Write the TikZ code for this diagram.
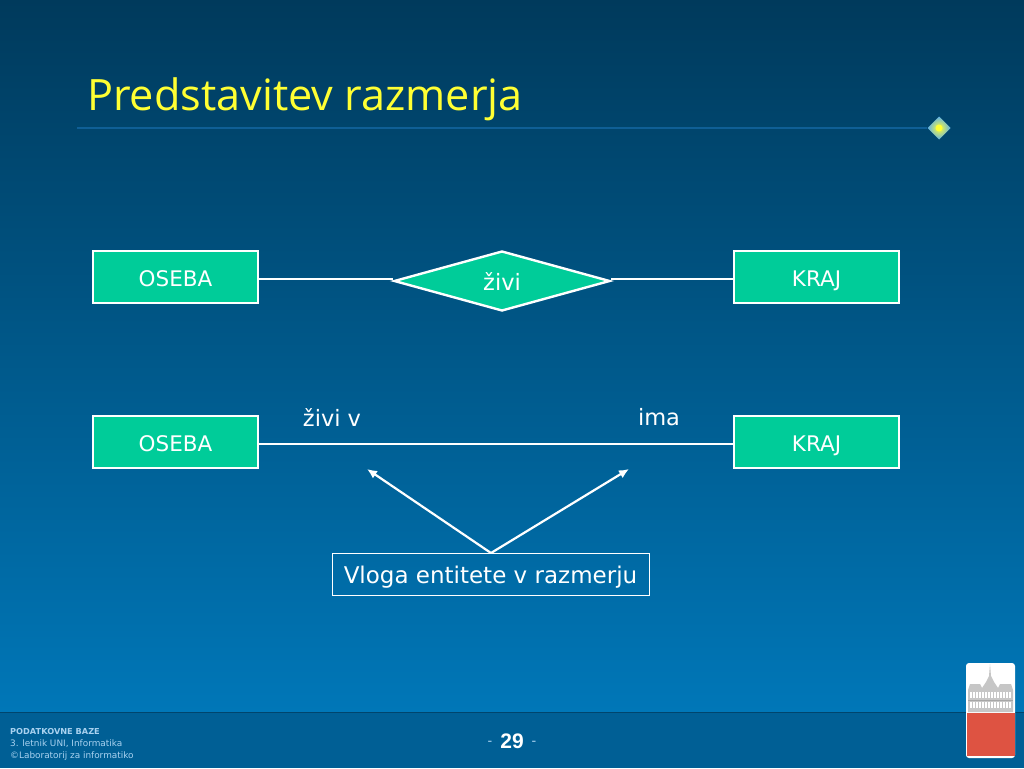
\documentclass[tikz,border=0pt]{standalone}
\usepackage{fontspec}
\setmainfont{DejaVu Sans}
\newfontfamily\titlefont{Open Sans}
\newfontfamily\numfont{Liberation Sans}
\usetikzlibrary{shapes.geometric,arrows.meta}
\definecolor{bgtop}{HTML}{003A5C}
\definecolor{bgbot}{HTML}{0077B8}
\definecolor{footbar}{HTML}{005F95}
\definecolor{boxgreen}{HTML}{00CC99}
\definecolor{titleyellow}{HTML}{FFFF33}
\definecolor{rulecol}{HTML}{0F5F96}
\definecolor{footcol}{HTML}{A9D2F0}
\definecolor{logored}{HTML}{DE5342}
\definecolor{ornblue}{HTML}{5FB0E8}
\tikzset{
  entbox/.style={draw=white,line width=2.4pt,fill=boxgreen,text=white,minimum width=165pt,minimum height=52pt,inner sep=0pt,text height=18pt,text depth=0pt,font=\fontsize{21.5}{26}\selectfont},
  relbox/.style={diamond,draw=white,line width=2.4pt,fill=boxgreen,text=white,minimum width=216pt,minimum height=60pt,inner sep=0pt,shape aspect=3.6,font=\fontsize{22.5}{26}\selectfont},
  rolelabel/.style={text=white,inner sep=0pt,font=\fontsize{22.5}{26}\selectfont},
  link/.style={white,line width=2.2pt},
  footline/.style={text=footcol,inner sep=0pt,anchor=west,font=\fontsize{8.9}{10}\selectfont},
}
\begin{document}
\begin{tikzpicture}[x=1pt,y=-1pt]
\useasboundingbox (0,0) rectangle (1024,768);
\shade[top color=bgtop,bottom color=bgbot] (0,0) rectangle (1024,712);
\fill[footbar] (0,712) rectangle (1024,768);
\draw[bgtop!70!footbar,line width=1pt] (0,712.5)--(1024,712.5);

% title
\node[text=titleyellow,anchor=west,inner sep=0pt,font=\titlefont\fontsize{43.2}{50}\selectfont] (title) at (87,99) {Predstavitev razmerja};
\coordinate (rulestart) at (77,128);
\node[diamond,inner sep=0pt,minimum width=23pt,minimum height=23pt] (orn) at (939,128) {};
\draw[rulecol,line width=1.5pt] (rulestart)--(orn);
\shade[inner color=titleyellow,outer color=ornblue] (939,116.5)--(950.5,128)--(939,139.5)--(927.5,128)--cycle;
\fill[titleyellow] (939,128) circle (3.5);

% first row
\node[entbox] (osebaA) at (175.5,277) {OSEBA};
\node[entbox] (krajA) at (816.5,277) {KRAJ};
\node[relbox] (zivi) at (502,281) {živi};
\draw[link] (osebaA.east|-0,279)--(zivi.west|-0,279);
\draw[link] (zivi.east|-0,279)--(krajA.west|-0,279);

% second row
\node[entbox] (osebaB) at (175.5,442) {OSEBA};
\node[entbox] (krajB) at (816.5,442) {KRAJ};
\draw[link] (osebaB.east|-0,444)--(krajB.west|-0,444);
\node[rolelabel] (vlogaA) at (332,417) {živi v};
\node[rolelabel] (vlogaB) at (659,417) {ima};

\node[draw=white,line width=1pt,text=white,minimum width=317pt,minimum height=42pt,inner sep=0pt,text height=18pt,text depth=0pt,font=\fontsize{23}{26}\selectfont] (vloga) at (490.5,574) {Vloga entitete v razmerju};
\coordinate (ciljA) at (367,469);
\coordinate (ciljB) at (629,469);
\draw[link,-{Latex[length=10pt,width=9pt]}] (491,553)--(ciljA);
\draw[link,-{Latex[length=10pt,width=9pt]}] (491,553)--(ciljB);

% footer
\node[footline,font=\fontsize{8.2}{10}\selectfont\bfseries] (foota) at (10,732) {PODATKOVNE BAZE};
\node[footline] (footb) at (10,744) {3. letnik UNI, Informatika};
\node[footline] (footc) at (10,756) {©Laboratorij za informatiko};
\node[text=white,inner sep=0pt,font=\numfont\fontsize{21}{24}\selectfont\bfseries] (stran) at (512,741) {29};
\node[text=footcol,inner sep=0pt,font=\numfont\fontsize{14}{16}\selectfont] (crtaA) at (490,743) {-};
\node[text=footcol,inner sep=0pt,font=\numfont\fontsize{14}{16}\selectfont] (crtaB) at (534,743) {-};

% logo
\fill[white,rounded corners=3pt] (966,663) rectangle (1015,758);
\fill[logored] (966.5,713) rectangle (1014.5,756);
\fill[gray!45] (968,690)--(970,684)--(980,684)--(982,688)--(986,682)--(989,676)--(990,664)--(991,676)--(994,682)--(998,688)--(1000,684)--(1011,684)--(1013,690)--(1013,712)--(968,712)--cycle;
\foreach \y in {692,702}
  \foreach \x in {970,973,...,1011}
    \fill[white] (\x,\y) rectangle ++(1.5,6);
\draw[gray!70,line width=0.8pt] (968,700)--(1013,700);
\end{tikzpicture}
\end{document}
